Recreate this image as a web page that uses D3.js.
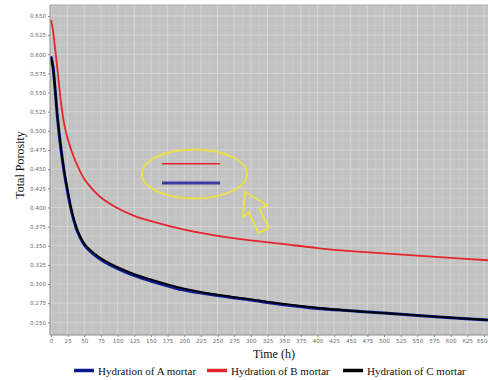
<!DOCTYPE html>
<html><head><meta charset="utf-8">
<script src="https://cdn.jsdelivr.net/npm/d3@7"></script>
<style>body{margin:0;background:#fff}svg{display:block}</style>
</head><body><svg id="c" width="488" height="380"></svg>
<script>
const xTicks = d3.range(0, 651, 25);
const yTicks = d3.range(0.25, 0.6501, 0.025);
const timeB = [0, 3, 6, 10, 15, 20, 25, 30, 37, 50, 60, 75, 100, 125, 150, 200, 250, 300, 350, 400, 450, 500, 550, 600, 656];
const porosityB = [0.645, 0.631, 0.609, 0.578, 0.537, 0.508, 0.490, 0.476, 0.460, 0.437, 0.426, 0.413, 0.399, 0.389, 0.382, 0.371, 0.363, 0.357, 0.352, 0.347, 0.343, 0.340, 0.337, 0.334, 0.331];
const timeC = [0, 3, 6, 10, 15, 20, 25, 30, 35, 40, 50, 65, 80, 100, 125, 150, 200, 250, 300, 350, 400, 450, 500, 550, 600, 656];
const porosityC = [0.597, 0.583, 0.556, 0.516, 0.477, 0.447, 0.422, 0.400, 0.383, 0.370, 0.353, 0.340, 0.331, 0.322, 0.313, 0.306, 0.294, 0.286, 0.280, 0.274, 0.269, 0.265, 0.262, 0.259, 0.256, 0.253];
const porosityA = [0.597, 0.583, 0.556, 0.515, 0.476, 0.445, 0.420, 0.398, 0.381, 0.368, 0.351, 0.338, 0.329, 0.320, 0.311, 0.304, 0.292, 0.285, 0.279, 0.273, 0.268, 0.265, 0.262, 0.259, 0.256, 0.253];
const seriesNames = ["Hydration of A mortar", "Hydration of B mortar", "Hydration of C mortar"];
const seriesColors = ["#0a1a8c", "#e3262b", "#000000"];

const svg = d3.select("#c");
const x = d3.scaleLinear().domain([0, 650]).range([51, 484]);
const y = d3.scaleLinear().domain([0.25, 0.65]).range([322.3, 16]);
const L = 50, T = 5, R = 488, B = 335;

svg.append("rect").attr("x", L).attr("y", T).attr("width", R - L).attr("height", B - T).attr("fill", "#c2c2c2");
svg.append("clipPath").attr("id", "pc").append("rect").attr("x", L).attr("y", T).attr("width", R - L).attr("height", B - T);
const g = svg.append("g").attr("clip-path", "url(#pc)");

// minor grid
g.selectAll(".mx").data(d3.range(12.5, 660, 25)).join("line")
  .attr("x1", d => x(d)).attr("x2", d => x(d)).attr("y1", T).attr("y2", B)
  .attr("stroke", "#cecece").attr("stroke-width", 0.6);
g.selectAll(".my").data(d3.range(0.2375, 0.67, 0.025)).join("line")
  .attr("x1", L).attr("x2", R).attr("y1", d => y(d)).attr("y2", d => y(d))
  .attr("stroke", "#cecece").attr("stroke-width", 0.6);
// major grid
g.selectAll(".gx").data(xTicks).join("line")
  .attr("x1", d => x(d)).attr("x2", d => x(d)).attr("y1", T).attr("y2", B)
  .attr("stroke", "#d6d6d6").attr("stroke-width", 1);
g.selectAll(".gy").data(yTicks).join("line")
  .attr("x1", L).attr("x2", R).attr("y1", d => y(d)).attr("y2", d => y(d))
  .attr("stroke", "#d6d6d6").attr("stroke-width", 1);

const line = d3.line().curve(d3.curveCatmullRom.alpha(0.5));
const mk = (ts, vs) => ts.map((t, i) => [x(t), y(vs[i])]);
g.append("path").attr("d", line(mk(timeC, porosityA))).attr("fill", "none").attr("stroke", seriesColors[0]).attr("stroke-width", 3);
g.append("path").attr("d", line(mk(timeB, porosityB))).attr("fill", "none").attr("stroke", seriesColors[1]).attr("stroke-width", 1.8);
g.append("path").attr("d", line(mk(timeC, porosityC))).attr("fill", "none").attr("stroke", seriesColors[2]).attr("stroke-width", 1.8);

// axes
svg.append("line").attr("x1", L).attr("x2", R).attr("y1", T).attr("y2", T).attr("stroke", "#a8a8a8");
svg.append("line").attr("x1", L).attr("x2", L).attr("y1", T).attr("y2", B).attr("stroke", "#8a8a8a");
svg.append("line").attr("x1", L).attr("x2", R).attr("y1", B).attr("y2", B).attr("stroke", "#8a8a8a");

const xa = svg.append("g").attr("transform", `translate(0,${B})`)
  .call(d3.axisBottom(x).tickValues(xTicks).tickSize(2).tickPadding(2).tickFormat(d3.format("d")));
const ya = svg.append("g").attr("transform", `translate(${L},0)`)
  .call(d3.axisLeft(y).tickValues(yTicks).tickSize(2).tickPadding(2).tickFormat(d3.format(".3f")));
[xa, ya].forEach(a => {
  a.select(".domain").remove();
  a.selectAll("line").attr("stroke", "#8a8a8a");
  a.selectAll("text").attr("fill", "#6a6a6a").attr("font-family", "DejaVu Sans, sans-serif").attr("font-size", 5.6);
});
xa.selectAll(".tick:last-of-type text").attr("text-anchor", "end").attr("dx", "0.55em");

// titles
svg.append("text").attr("transform", "translate(24,165) rotate(-90)").attr("text-anchor", "middle")
  .attr("font-family", "Liberation Serif, serif").attr("font-size", 12).attr("fill", "#111").text("Total Porosity");
svg.append("text").attr("x", 274).attr("y", 358).attr("text-anchor", "middle")
  .attr("font-family", "Liberation Serif, serif").attr("font-size", 12).attr("fill", "#111").text("Time (h)");

// legend
const legX = [74, 207, 343];
seriesNames.forEach((n, i) => {
  svg.append("line").attr("x1", legX[i]).attr("x2", legX[i] + 20).attr("y1", 370.5).attr("y2", 370.5)
    .attr("stroke", seriesColors[i]).attr("stroke-width", 3.5);
  svg.append("text").attr("x", legX[i] + 24).attr("y", 374.5)
    .attr("font-family", "Liberation Serif, serif").attr("font-size", 11).attr("fill", "#111").text(n);
});

// annotation
svg.append("ellipse").attr("cx", 194.5).attr("cy", 174).attr("rx", 52.5).attr("ry", 24.5)
  .attr("fill", "none").attr("stroke", "#ece04a").attr("stroke-width", 2);
svg.append("line").attr("x1", 162).attr("x2", 220).attr("y1", 163.7).attr("y2", 163.7).attr("stroke", "#e3262b").attr("stroke-width", 1.5);
svg.append("line").attr("x1", 162).attr("x2", 220).attr("y1", 183).attr("y2", 183).attr("stroke", "#3a3aa0").attr("stroke-width", 3);
svg.append("polygon").attr("points", "245,192 267,205 259.5,209 269,228 258.5,233 249,212.5 243,217")
  .attr("fill", "none").attr("stroke", "#ece04a").attr("stroke-width", 2).attr("stroke-linejoin", "miter");
</script></body></html>
